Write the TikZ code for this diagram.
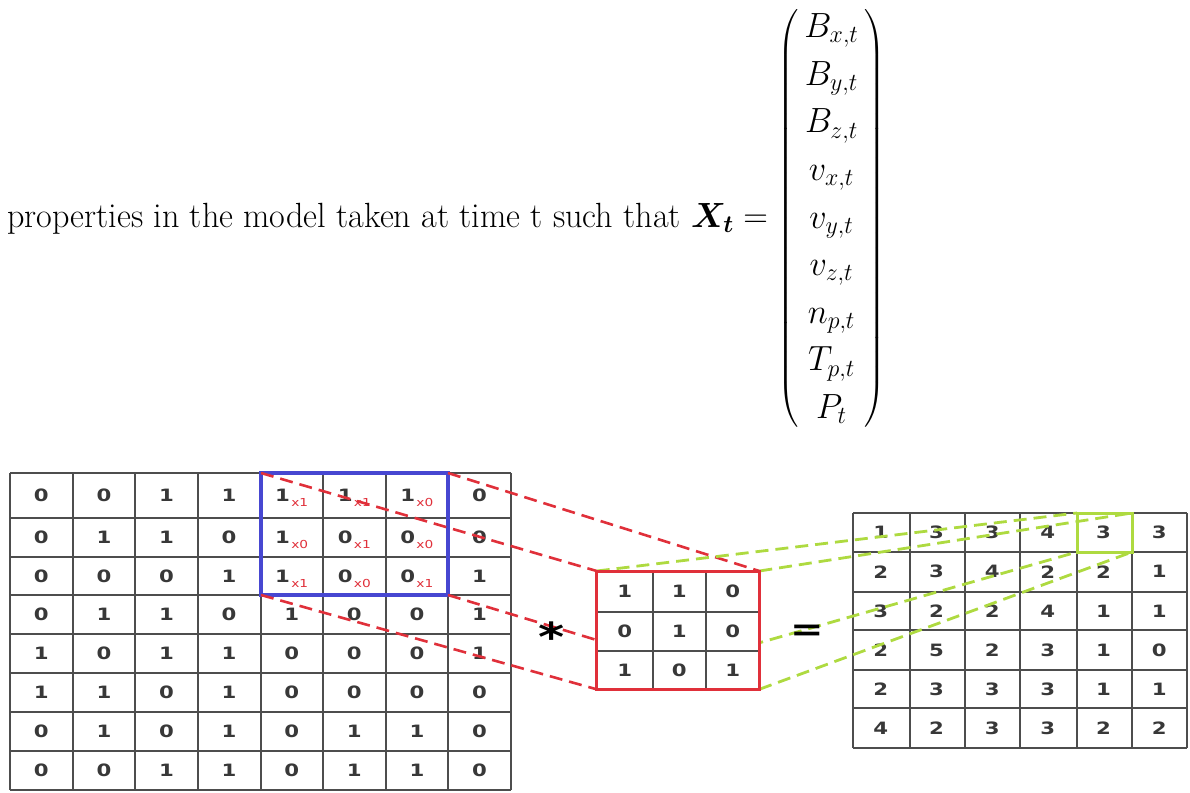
\RequirePackage{fix-cm}
\documentclass[tikz,border=0pt]{standalone}
\usepackage{amsmath}
\usepackage{graphicx}
\usepackage{fontspec}
\newfontfamily\digits{DejaVu Sans}
\definecolor{gridc}{HTML}{4D4D4D}
\definecolor{winblue}{HTML}{4747D1}
\definecolor{kred}{HTML}{E0303A}
\definecolor{ogreen}{HTML}{AEDA40}
\tikzset{
	cellnum/.style={font=\digits\bfseries\fontsize{17}{17}\selectfont, text=black!78, inner sep=0},
	gridline/.style={gridc, line width=2pt},
	reddash/.style={kred, line width=2.6pt, dash pattern=on 13pt off 7pt},
	greendash/.style={ogreen, line width=2.8pt, dash pattern=on 13pt off 7pt},
}
% digits are drawn wide, as in the original figure
\newcommand{\stretchd}[1]{\scalebox{1.25}[1]{#1}}
% digit with its red kernel weight
\newcommand{\kw}[2]{#1\kern1pt\smash{\raisebox{-5pt}{\color{kred}\mdseries\fontsize{11}{11}\selectfont x#2}}}
\renewcommand{\arraystretch}{1.133}
\begin{document}
\begin{tikzpicture}[x=1pt,y=-1pt]
	\useasboundingbox (0,0) rectangle (1190,792);
	
	% state vector
	\node[anchor=west, inner sep=0, font=\fontsize{35}{42}\selectfont] (eq) at (7,218.5)
		{\scalebox{0.975}[1]{properties in the model taken at time t such that
		$\delimitershortfall=25pt \delimiterfactor=850
		\boldsymbol{X_t} = \left(\,\begin{matrix} B_{x,t}\\ B_{y,t}\\ B_{z,t}\\ v_{x,t}\\ v_{y,t}\\ v_{z,t}\\ n_{p,t}\\ T_{p,t}\\ P_t \end{matrix}\,\right)$}};
	
	% input grid
	\foreach \x in {10,73,135,198,261,323,386,448,511} \draw[gridline] (\x,473) -- (\x,790);
	\foreach \y in {473,518,557,595,634,673,712,751,790} \draw[gridline] (10,\y) -- (511,\y);
	\foreach \vals [count=\r] in {{0,0,1,1,\kw11,\kw11,\kw10,0},{0,1,1,0,\kw10,\kw01,\kw00,0},{0,0,0,1,\kw11,\kw00,\kw01,1},{0,1,1,0,1,0,0,1},{1,0,1,1,0,0,0,1},{1,1,0,1,0,0,0,0},{0,1,0,1,0,1,1,0},{0,0,1,1,0,1,1,0}} {
		\pgfmathsetmacro{\yc}{{495.5,537.5,576,614.5,653.5,692.5,731.5,770.5}[\r-1]}
		\foreach \v [count=\c] in \vals
			\node[cellnum] (in-\r-\c) at ({10+62.6*(\c-0.5)},\yc) {\stretchd{\v}};
	}
	
	% output grid
	\foreach \x in {853,910,965,1020,1077,1132,1187} \draw[gridline] (\x,513) -- (\x,748);
	\foreach \y in {513,552,592,630,670,708,748} \draw[gridline] (853,\y) -- (1187,\y);
	\foreach \vals [count=\r] in {{1,3,3,4,3,3},{2,3,4,2,2,1},{3,2,2,4,1,1},{2,5,2,3,1,0},{2,3,3,3,1,1},{4,2,3,3,2,2}}
		\foreach \v [count=\c] in \vals
			\node[cellnum] (out-\r-\c) at ({853+55.67*(\c-0.5)},{513+39.17*(\r-0.5)}) {\stretchd{\v}};
	
	% window, kernel and result cell
	\node[draw=winblue, line width=4pt, minimum width=187pt, minimum height=122pt, inner sep=0, outer sep=0] (win) at (354.5,534) {};
	\node[draw=ogreen, line width=3pt, minimum width=55pt, minimum height=39pt, inner sep=0, outer sep=0] (res) at (1104.5,532.5) {};
	\node[minimum width=162.6pt, minimum height=118.3pt, inner sep=0, outer sep=0] (kern) at (678,630.15) {};
	
	\draw[reddash] (win.north west) -- (kern.north west);
	\draw[reddash] (win.north east) -- (kern.north east);
	\draw[reddash] (win.south west) -- (kern.south west);
	\draw[reddash] (win.south east) -- (kern.south east);
	\draw[greendash] (kern.north west) -- (res.north west);
	\draw[greendash] (kern.north east) -- (res.north east);
	\draw[greendash] (kern.south west) -- (res.south west);
	\draw[greendash] (kern.south east) -- (res.south east);
	
	\fill[white] (kern.north west) rectangle (kern.south east);
	\foreach \x in {653,706} \draw[gridline] (\x,571) -- (\x,689.3);
	\foreach \y in {612,651} \draw[gridline] (596.7,\y) -- (759.3,\y);
	\foreach \vals [count=\r] in {{1,1,0},{0,1,0},{1,0,1}} {
		\pgfmathsetmacro{\yc}{{591.3,631.2,670}[\r-1]}
		\foreach \v [count=\c] in \vals {
			\pgfmathsetmacro{\xc}{{624.7,679.3,732.7}[\c-1]}
			\node[cellnum] (k-\r-\c) at (\xc,\yc) {\stretchd{\v}};
		}
	}
	\draw[kred, line width=3pt] (kern.north west) rectangle (kern.south east);
	
	\node[font=\digits\bfseries\fontsize{40}{40}\selectfont, inner sep=0] (star) at (552,637) {\stretchd{*}};
	\node[font=\digits\bfseries\fontsize{32}{32}\selectfont, inner sep=0] (equal) at (807.5,632.5) {\stretchd{=}};
\end{tikzpicture}
\end{document}
